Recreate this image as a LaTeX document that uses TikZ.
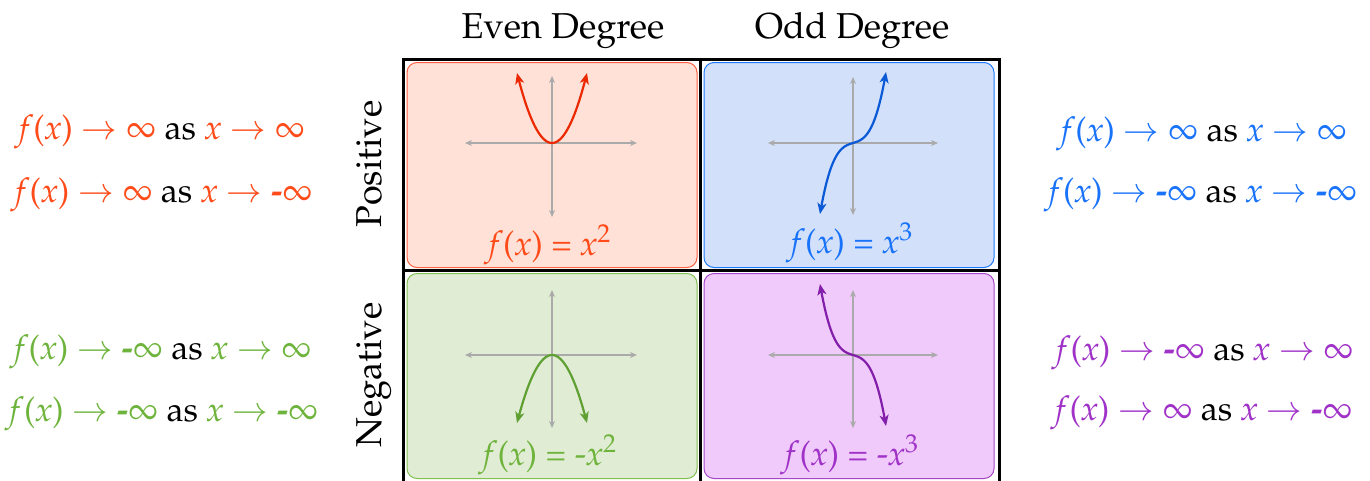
\documentclass[tikz,border=0pt]{standalone}
\usepackage[T1]{fontenc}
\usepackage{mathpazo}
\usetikzlibrary{arrows.meta}
\definecolor{redtxt}{RGB}{255,75,25}
\definecolor{redcrv}{RGB}{235,40,0}
\definecolor{redfill}{RGB}{255,225,215}
\definecolor{rededge}{RGB}{255,95,65}
\definecolor{bluetxt}{RGB}{25,115,250}
\definecolor{bluecrv}{RGB}{10,90,215}
\definecolor{bluefill}{RGB}{210,224,250}
\definecolor{blueedge}{RGB}{30,120,250}
\definecolor{greentxt}{RGB}{110,180,60}
\definecolor{greencrv}{RGB}{95,160,50}
\definecolor{greenfill}{RGB}{225,236,212}
\definecolor{greenedge}{RGB}{130,190,80}
\definecolor{purptxt}{RGB}{160,50,200}
\definecolor{purpcrv}{RGB}{130,30,170}
\definecolor{purpfill}{RGB}{240,202,250}
\definecolor{purpedge}{RGB}{165,70,200}
\definecolor{axisgray}{RGB}{170,170,170}
\newcommand{\fx}{\textit{f}(\textit{x})}
\newcommand{\xx}{\textit{x}}
\newcommand{\minf}{\mbox{\bfseries -}$\infty$}
\newcommand{\pinf}{$\infty$}
\newcommand{\goes}{ $\to$ }
\newcommand{\blk}[1]{\textcolor{black}{#1}}
\tikzset{
  big/.style={font=\fontsize{34}{40}\selectfont, inner sep=0pt},
  head/.style={font=\fontsize{36}{42}\selectfont, inner sep=0pt},
  panel/.style={draw, line width=1pt, rounded corners=10pt,
    minimum width=290pt, minimum height=205pt, inner sep=0pt},
  axis/.style={axisgray, line width=1.3pt,
    {Stealth[length=7pt,width=6pt]}-{Stealth[length=7pt,width=6pt]}},
  curve/.style={line width=2.2pt,
    {Stealth[length=11pt,width=9pt,inset=3pt]}-{Stealth[length=11pt,width=9pt,inset=3pt]}}
}
\begin{document}
\begin{tikzpicture}[x=1pt, y=-1pt]
  \useasboundingbox (0,0) rectangle (1370,480);
  % column and row headings
  \node[head, anchor=base] (heven) at (563,38) {Even Degree};
  \node[head, anchor=base] (hodd) at (852,38) {Odd Degree};
  \node[head, rotate=90, anchor=base] (rpos) at (381,164) {Positive};
  \node[head, rotate=90, anchor=base] (rneg) at (381,375) {Negative};
  % panels
  \node[panel, draw=rededge, fill=redfill] (pe) at (552,165) {};
  \node[panel, draw=blueedge, fill=bluefill] (po) at (849,165) {};
  \node[panel, draw=greenedge, fill=greenfill] (ne) at (552,376) {};
  \node[panel, draw=purpedge, fill=purpfill] (no) at (849,376) {};
  % grid
  \draw[line width=3pt] (403.5,59.5) rectangle (999,485);
  \draw[line width=3pt] (700,59.5) -- (700,485);
  \draw[line width=3pt] (403.5,270.5) -- (999,270.5);
  % positive even: x^2
  \draw[axis] (465,143) -- (637,143);
  \draw[axis] (552,76) -- (552,217);
  \draw[curve, redcrv] plot[domain=-35:35, samples=41, smooth] ({552+\x},{143-70*(\x/35)*(\x/35)});
  \node[big, redtxt, anchor=base] (lpe) at (550,255) {\fx{} = \xx$^2$};
  % positive odd: x^3
  \draw[axis] (768,143) -- (938,143);
  \draw[axis] (853,77) -- (853,215);
  \draw[curve, bluecrv] plot[domain=-33:33, samples=41, smooth] ({853+\x},{143-10*(\x/33)-61*(\x/33)*(\x/33)*(\x/33)});
  \node[big, bluetxt, anchor=base] (lpo) at (852,253) {\fx{} = \xx$^3$};
  % negative even: -x^2
  \draw[axis] (465,355) -- (637,355);
  \draw[axis] (552,290) -- (552,428);
  \draw[curve, greencrv] plot[domain=-35:35, samples=41, smooth] ({552+\x},{355+68*(\x/35)*(\x/35)});
  \node[big, greentxt, anchor=base] (lne) at (550,465) {\fx{} = -\xx$^2$};
  % negative odd: -x^3
  \draw[axis] (768,355) -- (938,355);
  \draw[axis] (853,290) -- (853,428);
  \draw[curve, purpcrv] plot[domain=-33:33, samples=41, smooth] ({853+\x},{355+10*(\x/33)+61*(\x/33)*(\x/33)*(\x/33)});
  \node[big, purptxt, anchor=base] (lno) at (852,465) {\fx{} = -\xx$^3$};
  % end behaviour, left
  \node[big, redtxt, anchor=base] (tpe1) at (162,139) {\fx\goes\pinf{} \blk{as} \xx\goes\pinf};
  \node[big, redtxt, anchor=base] (tpe2) at (164,202) {\fx\goes\pinf{} \blk{as} \xx\goes\minf};
  \node[big, greentxt, anchor=base] (tne1) at (163,359) {\fx\goes\minf{} \blk{as} \xx\goes\pinf};
  \node[big, greentxt, anchor=base] (tne2) at (164,421) {\fx\goes\minf{} \blk{as} \xx\goes\minf};
  % end behaviour, right
  \node[big, bluetxt, anchor=base] (tpo1) at (1204,141) {\fx\goes\pinf{} \blk{as} \xx\goes\pinf};
  \node[big, bluetxt, anchor=base] (tpo2) at (1203,202) {\fx\goes\minf{} \blk{as} \xx\goes\minf};
  \node[big, purptxt, anchor=base] (tno1) at (1205,360) {\fx\goes\minf{} \blk{as} \xx\goes\pinf};
  \node[big, purptxt, anchor=base] (tno2) at (1204,420) {\fx\goes\pinf{} \blk{as} \xx\goes\minf};
\end{tikzpicture}
\end{document}
